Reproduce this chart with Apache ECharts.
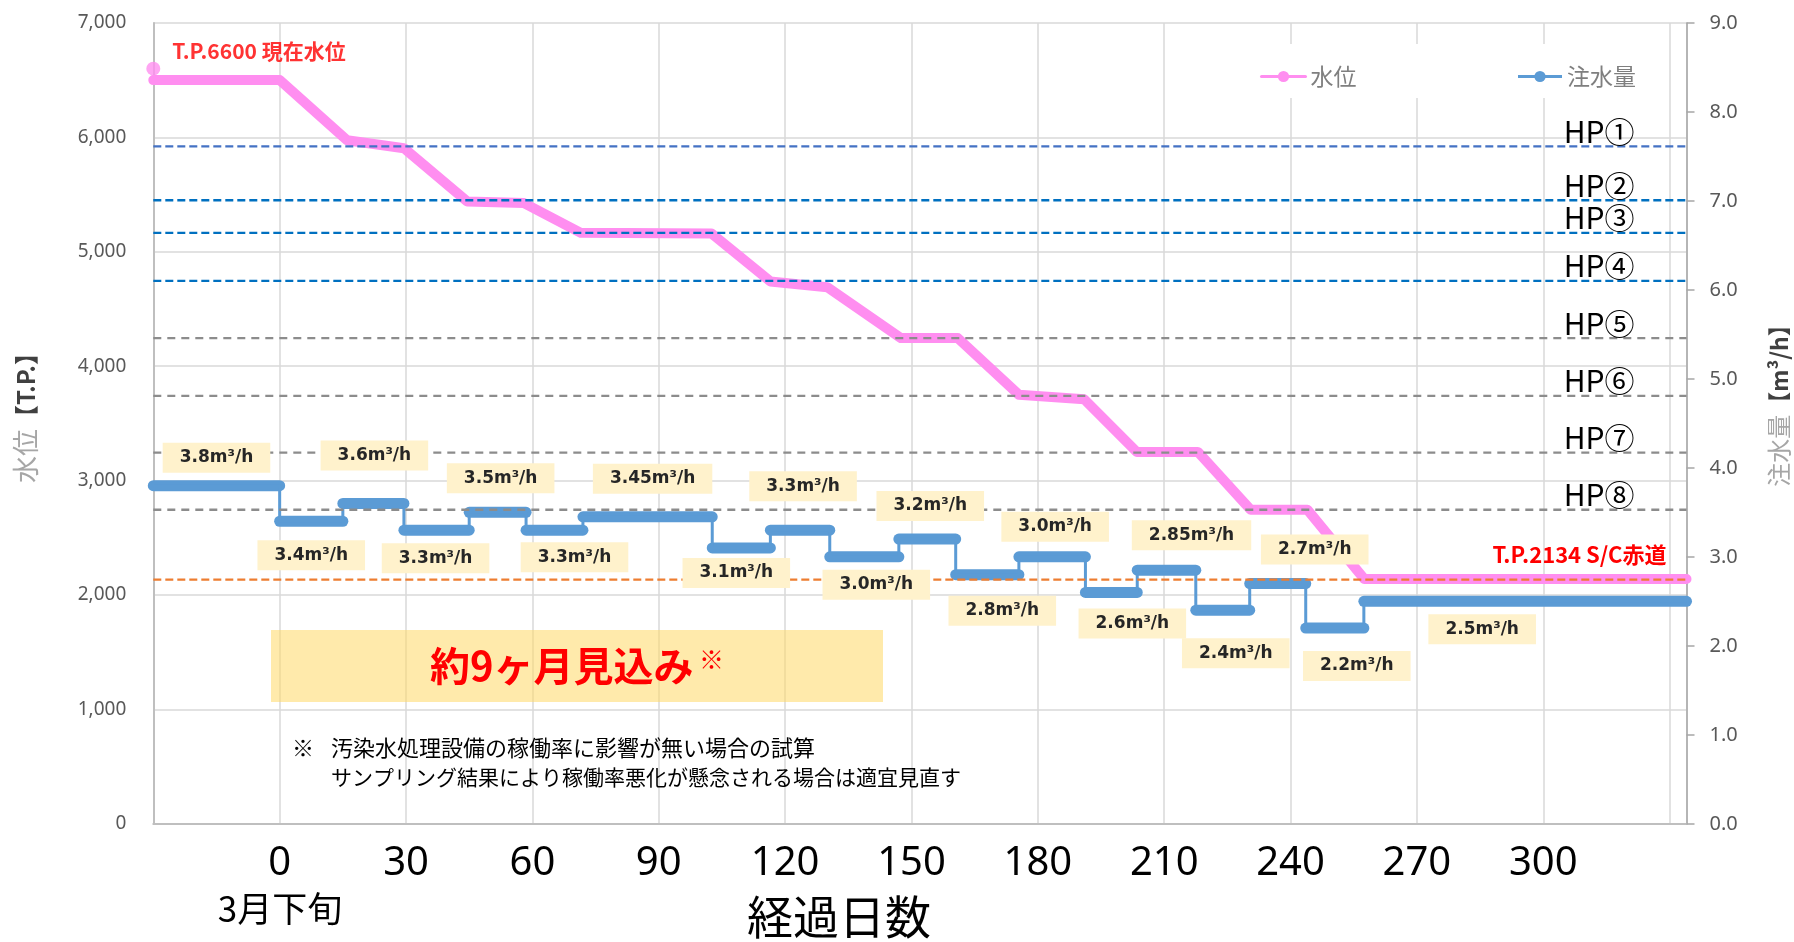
<!DOCTYPE html>
<html>
<head>
<meta charset="utf-8">
<script src="https://cdn.jsdelivr.net/npm/echarts@6/dist/echarts.min.js"></script>
<style>
html, body { margin: 0; padding: 0; background: #ffffff; }
#chart { width: 1794px; height: 942px; }
</style>
</head>
<body>
<div id="chart"></div>
<script>
// ---- 水位 (T.P.) over elapsed days ----
const levelDays = [-30, 0, 16, 29.5, 44.5, 58, 71.5, 102.5, 116.5, 130, 147.5, 161, 175.5, 191, 203.5, 218, 230.5, 244, 257.5, 334];
const levelTP   = [6500, 6500, 5975, 5905, 5440, 5425, 5165, 5160, 4740, 4690, 4245, 4245, 3750, 3710, 3250, 3250, 2745, 2745, 2140, 2140];
const currentLevel = 6600;

// ---- 注水量 (m3/h) steps: first day of each step ----
const flowStartDays = [-30, 0, 15, 29.5, 45, 58.5, 72, 102.7, 116.5, 130.6, 147, 160.5, 175.5, 191.3, 203.6, 217.5, 230.3, 243.6, 257.4];
const flowEndDay = 334;
const flowRates = [3.8, 3.4, 3.6, 3.3, 3.5, 3.3, 3.45, 3.1, 3.3, 3.0, 3.2, 2.8, 3.0, 2.6, 2.85, 2.4, 2.7, 2.2, 2.5];

// ---- reference levels ----
const hpNames  = ['HP①', 'HP②', 'HP③', 'HP④', 'HP⑤', 'HP⑥', 'HP⑦', 'HP⑧'];
const hpLevels = [5920, 5450, 5165, 4745, 4245, 3740, 3245, 2745];
const scLevel  = 2134;

// ---- tick labels ----
const dayTickLabels = [0, 30, 60, 90, 120, 150, 180, 210, 240, 270, 300];

// label box placement next to each flow step, in pixels from the step centre
const flowLabelOffsets = [
  [0, -28], [0, 34], [1, -48], [-1, 28], [3, -34], [20, 27], [5, -38], [-5, 25],
  [3, -44], [12, 28], [3, -33], [15, 36], [3, -30], [21, 31], [25, -35], [13, 43],
  [37, -34], [22, 38], [-43, 28]
];

const PINK = '#FF8EF0';
const BLUE = '#5B9BD5';
const RED = '#FF0000';
const CJK = '"Noto Sans CJK JP", "Noto Sans", sans-serif';
const LATIN = '"Noto Sans", "DejaVu Sans", sans-serif';

function fmtRate(v) {
  return Math.abs(Math.round(v * 10) - v * 10) < 1e-9 ? v.toFixed(1) : String(v);
}

const levelData = levelDays.map((d, i) => [d, levelTP[i]]);
const flowSteps = flowRates.map((v, i) => [flowStartDays[i], i + 1 < flowStartDays.length ? flowStartDays[i + 1] : flowEndDay, v]);
const flowLine = flowRates.map((v, i) => [flowStartDays[i], v]).concat([[flowEndDay, flowRates[flowRates.length - 1]]]);
const refData = hpLevels.map((v, i) => [v, i]).concat([[scLevel, hpLevels.length]]);

const chart = echarts.init(document.getElementById('chart'), null, { renderer: 'canvas' });

chart.setOption({
  animation: false,
  backgroundColor: '#ffffff',
  textStyle: { fontFamily: CJK },
  grid: { left: 153.3, right: 107.5, top: 22.9, bottom: 118.2, containLabel: false, outerBoundsMode: 'none' },
  legend: {
    data: ['水位', '注水量'],
    left: 1240, top: 44,
    padding: [21, 20, 10, 20],
    backgroundColor: '#ffffff',
    itemWidth: 44, itemHeight: 14, itemGap: 160,
    lineStyle: { width: 3 },
    textStyle: { fontSize: 23, color: '#7F7F7F', fontFamily: CJK },
    selectedMode: false
  },
  xAxis: {
    type: 'value', min: -30, max: 334, interval: 30,
    axisLine: { show: true, onZero: false, lineStyle: { color: '#BFBFBF', width: 2 } },
    axisTick: { show: false },
    splitLine: { show: true, lineStyle: { color: '#D9D9D9', width: 1.5 } },
    axisLabel: {
      margin: 20, color: '#000000', fontSize: 40, fontFamily: LATIN,
      formatter: v => dayTickLabels.indexOf(v) >= 0 ? String(v) : ''
    }
  },
  yAxis: [
    {
      type: 'value', min: 0, max: 7000, interval: 1000,
      axisLine: { show: true, onZero: false, lineStyle: { color: '#BFBFBF', width: 2 } },
      axisTick: { show: false },
      splitLine: { show: true, lineStyle: { color: '#D9D9D9', width: 1.5 } },
      axisLabel: { margin: 27, color: '#595959', fontSize: 19, fontFamily: LATIN, formatter: v => v.toLocaleString('en-US') }
    },
    {
      type: 'value', min: 0, max: 9, interval: 1, position: 'right',
      axisLine: { show: true, onZero: false, lineStyle: { color: '#A6A6A6', width: 1.5 } },
      axisTick: { show: true, length: 8, lineStyle: { color: '#A6A6A6', width: 1.5 } },
      splitLine: { show: false },
      axisLabel: { margin: 23, color: '#595959', fontSize: 20, fontFamily: LATIN, formatter: v => v.toFixed(1) }
    }
  ],
  series: [
    {
      name: '水位', type: 'line', data: levelData, z: 3,
      symbol: 'circle', showSymbol: false, clip: false, silent: true,
      lineStyle: { color: PINK, width: 10, cap: 'round', join: 'round' },
      itemStyle: { color: PINK }
    },
    {
      name: '現在水位', type: 'scatter', data: [[-30, currentLevel]], z: 4,
      symbol: 'circle', symbolSize: 14, clip: false, silent: true,
      itemStyle: { color: PINK },
      label: {
        show: true, position: 'right', distance: 12, offset: [0, -18],
        formatter: p => 'T.P.' + p.value[1] + ' 現在水位',
        color: RED, fontSize: 21, fontWeight: 'bold', fontFamily: CJK
      }
    },
    {
      name: '注水量', type: 'line', yAxisIndex: 1, data: flowLine, step: 'end', z: 2,
      symbol: 'circle', showSymbol: false, clip: false, silent: true,
      lineStyle: { color: BLUE, width: 3 },
      itemStyle: { color: BLUE }
    },
    {
      name: '注水量', type: 'custom', yAxisIndex: 1, data: flowSteps, z: 2, silent: true,
      encode: { x: [0, 1], y: 2 },
      renderItem: (params, api) => {
        const p0 = api.coord([api.value(0), api.value(2)]);
        const p1 = api.coord([api.value(1), api.value(2)]);
        return {
          type: 'line',
          shape: { x1: p0[0], y1: p0[1], x2: p1[0], y2: p1[1] },
          style: { stroke: BLUE, lineWidth: 11, lineCap: 'round' }
        };
      }
    },
    {
      name: 'refLevels', type: 'custom', data: refData, z: 5, silent: true,
      encode: { x: 1, y: 0 },
      renderItem: (params, api) => {
        const cs = params.coordSys;
        const i = params.dataIndex;
        const y = api.coord([0, api.value(0)])[1];
        const isSC = i === hpLevels.length;
        const color = isSC ? '#ED7D31' : (i === 0 ? '#4472C4' : (i < 4 ? '#0070C0' : '#8C8C8C'));
        const dash = isSC ? [8, 4] : (i < 4 ? [8, 4] : [8, 6]);
        const label = isSC
          ? { type: 'text', x: cs.x + cs.width - 20, y: y - 25,
              style: { text: 'T.P.' + api.value(0) + ' S/C赤道', fill: RED, fontSize: 22, fontWeight: 'bold', fontFamily: CJK, align: 'right', verticalAlign: 'middle' } }
          : { type: 'text', x: cs.x + cs.width - 52, y: y - 15,
              style: { text: hpNames[i], fill: '#000000', fontSize: 30, fontFamily: CJK, align: 'right', verticalAlign: 'middle' } };
        return {
          type: 'group',
          children: [
            { type: 'line', shape: { x1: cs.x, y1: y, x2: cs.x + cs.width, y2: y },
              style: { stroke: color, lineWidth: 2.3, lineDash: dash } },
            label
          ]
        };
      }
    },
    {
      name: '注水量', type: 'custom', yAxisIndex: 1, data: flowSteps, z: 6, silent: true,
      encode: { x: [0, 1], y: 2 },
      renderItem: (params, api) => {
        const i = params.dataIndex;
        const c = api.coord([(api.value(0) + api.value(1)) / 2, api.value(2)]);
        const off = flowLabelOffsets[i];
        return {
          type: 'text', x: c[0] + off[0], y: c[1] + off[1],
          style: {
            text: fmtRate(api.value(2)) + 'm³/h',
            fill: '#262626', fontSize: 17, fontWeight: 'bold', fontFamily: '"DejaVu Sans", sans-serif',
            align: 'center', verticalAlign: 'middle',
            backgroundColor: '#FFF2CC', padding: [6, 17], lineHeight: 18
          }
        };
      }
    }
  ],
  graphic: [
    { type: 'rect', z: 10, shape: { x: 271, y: 630, width: 612, height: 72 }, style: { fill: 'rgba(255,217,102,0.55)' } },
    { type: 'text', z: 11, x: 430, y: 666, style: { text: '約9ヶ月見込み', fill: RED, fontSize: 40, fontWeight: 'bold', fontFamily: CJK, verticalAlign: 'middle' } },
    { type: 'text', z: 11, x: 699, y: 659, style: { text: '※', fill: RED, fontSize: 25, fontWeight: 'bold', fontFamily: CJK, verticalAlign: 'middle' } },
    { type: 'text', z: 11, x: 292, y: 748, style: { text: '※', fill: '#000000', fontSize: 22, fontFamily: CJK, verticalAlign: 'middle' } },
    { type: 'text', z: 11, x: 331, y: 748, style: { text: '汚染水処理設備の稼働率に影響が無い場合の試算', fill: '#000000', fontSize: 22, fontFamily: CJK, verticalAlign: 'middle' } },
    { type: 'text', z: 11, x: 331, y: 777, style: { text: 'サンプリング結果により稼働率悪化が懸念される場合は適宜見直す', fill: '#000000', fontSize: 21, fontFamily: CJK, verticalAlign: 'middle' } },
    { type: 'text', z: 11, x: 280, y: 909, style: { text: '3月下旬', fill: '#000000', fontSize: 35, fontFamily: CJK, align: 'center', verticalAlign: 'middle' } },
    { type: 'text', z: 11, x: 839, y: 917, style: { text: '経過日数', fill: '#000000', fontSize: 46, fontFamily: CJK, align: 'center', verticalAlign: 'middle' } },
    { type: 'text', z: 11, x: 26, y: 412, rotation: Math.PI / 2,
      style: { text: '{a|水位}{b|【T.P.】}', align: 'center', verticalAlign: 'middle',
        rich: { a: { fill: '#A6A6A6', fontSize: 27, fontFamily: CJK }, b: { fill: '#404040', fontSize: 24, fontWeight: 'bold', fontFamily: CJK } } } },
    { type: 'text', z: 11, x: 1779, y: 400, rotation: Math.PI / 2,
      style: { text: '{a|注水量}{b|【m³/h】}', align: 'center', verticalAlign: 'middle',
        rich: { a: { fill: '#A6A6A6', fontSize: 24, fontFamily: CJK }, b: { fill: '#404040', fontSize: 23, fontWeight: 'bold', fontFamily: CJK } } } }
  ]
});
</script>
</body>
</html>
